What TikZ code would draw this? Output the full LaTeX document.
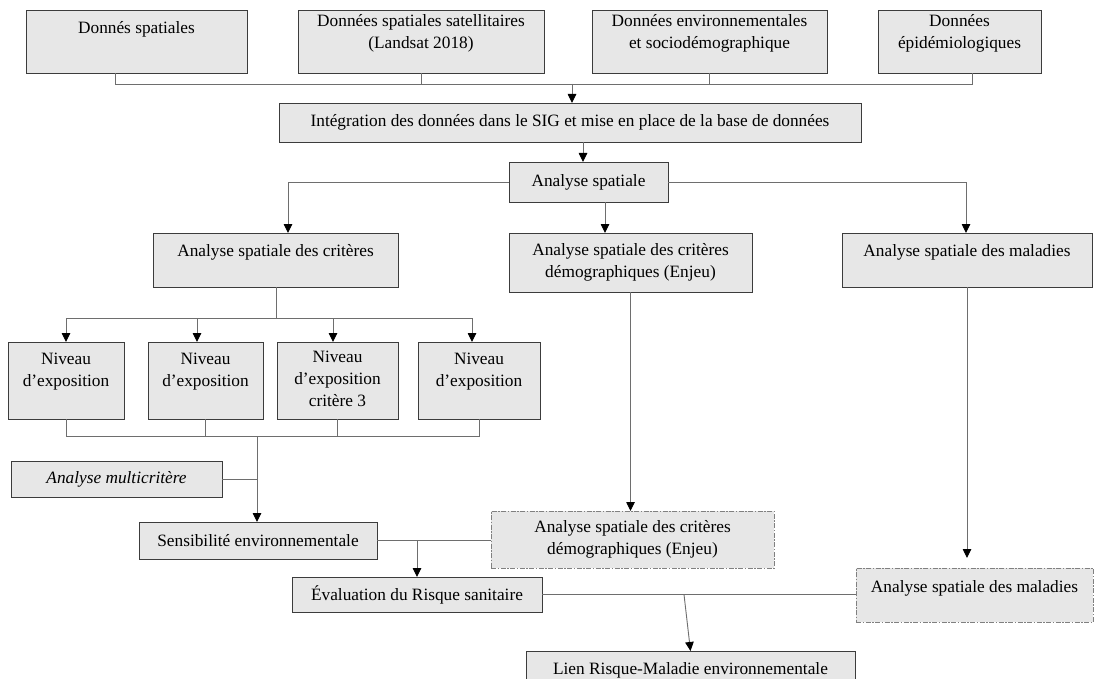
\documentclass[tikz,border=0pt]{standalone}
\usepackage{fontspec}
\setmainfont{Liberation Serif}
\usetikzlibrary{arrows.meta}
\definecolor{boxfill}{RGB}{231,231,231}
\definecolor{bordc}{RGB}{60,60,60}
\definecolor{linec}{RGB}{110,110,110}
\newcommand\tx[2]{\raisebox{#1}[\height][\depth]{\begin{tabular}{@{}c@{}}#2\end{tabular}}}
\tikzset{
  box/.style={draw=bordc, fill=boxfill, line width=0.9pt, inner sep=0pt, outer sep=0pt,
    font=\fontsize{17.3}{22}\selectfont},
  dbox/.style={box, draw=gray, dash pattern=on 5pt off 1.5pt on 1.5pt off 1.5pt},
  line/.style={draw=linec, line width=0.9pt},
  arr/.style={line, -{Triangle[length=9pt,width=8.5pt,color=black]}}
}
\begin{document}
\begin{tikzpicture}[x=1pt,y=-1pt]
\useasboundingbox (0,0) rectangle (1094,679);
\clip (0,0) rectangle (1094,679);
\fill[white] (0,0) rectangle (1094,679);
% top row
\node[box, minimum width=221pt, minimum height=63pt] (b1) at (136.5,41.5) {\tx{12pt}{Donnés spatiales}};
\node[box, minimum width=246pt, minimum height=63pt] (b2) at (421,41.5) {\tx{8.5pt}{Données spatiales satellitaires\\(Landsat 2018)}};
\node[box, minimum width=235pt, minimum height=63pt] (b3) at (709.5,41.5) {\tx{8.5pt}{Données environnementales\\et sociodémographique}};
\node[box, minimum width=163pt, minimum height=63pt] (b4) at (959.5,41.5) {\tx{8.5pt}{Données\\épidémiologiques}};
\node[box, minimum width=582pt, minimum height=39pt] (integ) at (570,122.5) {Intégration des données dans le SIG et mise en place de la base de données};
\node[box, minimum width=159pt, minimum height=40pt] (as) at (588.5,182) {Analyse spatiale};
% second level
\node[box, minimum width=245pt, minimum height=54pt] (crit) at (275.5,260) {\tx{8pt}{Analyse spatiale des critères}};
\node[box, minimum width=243pt, minimum height=59pt] (mid) at (630.5,262.5) {\tx{0pt}{Analyse spatiale des critères\\démographiques (Enjeu)}};
\node[box, minimum width=250pt, minimum height=54pt] (mal) at (967,260) {\tx{8pt}{Analyse spatiale des maladies}};
% niveau
\node[box, minimum width=116pt, minimum height=77pt] (n1) at (66,380.5) {\tx{9.5pt}{Niveau\\d’exposition}};
\node[box, minimum width=115pt, minimum height=77pt] (n2) at (205.5,380.5) {\tx{9.5pt}{Niveau\\d’exposition}};
\node[box, minimum width=121pt, minimum height=77pt] (n3) at (337.5,380.5) {\tx{0pt}{Niveau\\d’exposition\\critère 3}};
\node[box, minimum width=122pt, minimum height=77pt] (n4) at (479,380.5) {\tx{9.5pt}{Niveau\\d’exposition}};
% lower part
\node[box, minimum width=211pt, minimum height=36pt] (multi) at (116.5,479) {\textit{Analyse multicritère}};
\node[box, minimum width=238pt, minimum height=37pt] (sens) at (258,540.5) {Sensibilité environnementale};
\node[dbox, minimum width=283pt, minimum height=57pt] (enjeu) at (632.5,539.5) {\tx{0pt}{Analyse spatiale des critères\\démographiques (Enjeu)}};
\node[box, minimum width=250pt, minimum height=35pt] (eval) at (417,594.5) {Évaluation du Risque sanitaire};
\node[dbox, minimum width=237pt, minimum height=54pt] (mald) at (974.5,595) {\tx{7pt}{Analyse spatiale des maladies}};
\node[box, minimum width=329pt, minimum height=38pt] (lien) at (690.5,670) {Lien Risque-Maladie environnementale};
% connectors: top bus
\coordinate (busL) at (115,84);
\coordinate (busR) at (972,84);
\draw[line] (b1.south -| busL) -- (busL) -- (busR) -- (b4.south -| busR);
\draw[line] (b2.south) -- (b2.south |- busL);
\draw[line] (b3.south) -- (b3.south |- busL);
\coordinate (j1) at (572,84);
\draw[arr] (j1) -- (j1 |- integ.north);
\coordinate (j2) at (583,142);
\draw[arr] (integ.south -| j2) -- (as.north -| j2);
% from analyse spatiale
\coordinate (lc) at (288,181);
\draw[arr] (as.west) -- (as.west -| lc) -- (crit.north -| lc);
\coordinate (mc) at (605,202);
\draw[arr] (as.south -| mc) -- (mid.north -| mc);
\coordinate (rc) at (966,181);
\draw[arr] (as.east) -- (as.east -| rc) -- (mal.north -| rc);
% criteria to niveau
\coordinate (cb) at (276,318);
\coordinate (a2) at (197,318);
\coordinate (a3) at (333,318);
\coordinate (a4) at (472,318);
\draw[line] (crit.south -| cb) -- (cb);
\draw[line] (n1.north |- cb) -- (a4);
\draw[arr] (n1.north |- cb) -- (n1.north);
\draw[arr] (a2) -- (n2.north -| a2);
\draw[arr] (a3) -- (n3.north -| a3);
\draw[arr] (a4) -- (n4.north -| a4);
% niveau to sensibilite
\coordinate (nb) at (257,436);
\draw[line] (n1.south) -- (n1.south |- nb) -- (n4.south |- nb) -- (n4.south);
\draw[line] (n2.south) -- (n2.south |- nb);
\draw[line] (n3.south) -- (n3.south |- nb);
\draw[arr] (nb) -- (sens.north -| nb);
\draw[line] (multi.east) -- (multi.east -| nb);
% sensibilite / enjeu to evaluation
\draw[line] (sens.east) -- (sens.east -| enjeu.west);
\coordinate (ec) at (417,540.5);
\draw[arr] (sens.east -| ec) -- (eval.north);
\draw[arr] (mid.south) -- (mid.south |- enjeu.north);
\draw[arr, shorten >=10pt] (mal.south) -- (mal.south |- mald.north);
% evaluation / maladies to lien
\draw[line] (eval.east) -- (eval.east -| mald.west);
\coordinate (lk) at (684,594.5);
\draw[arr] (eval.east -| lk) -- (lien.north);
\end{tikzpicture}
\end{document}
